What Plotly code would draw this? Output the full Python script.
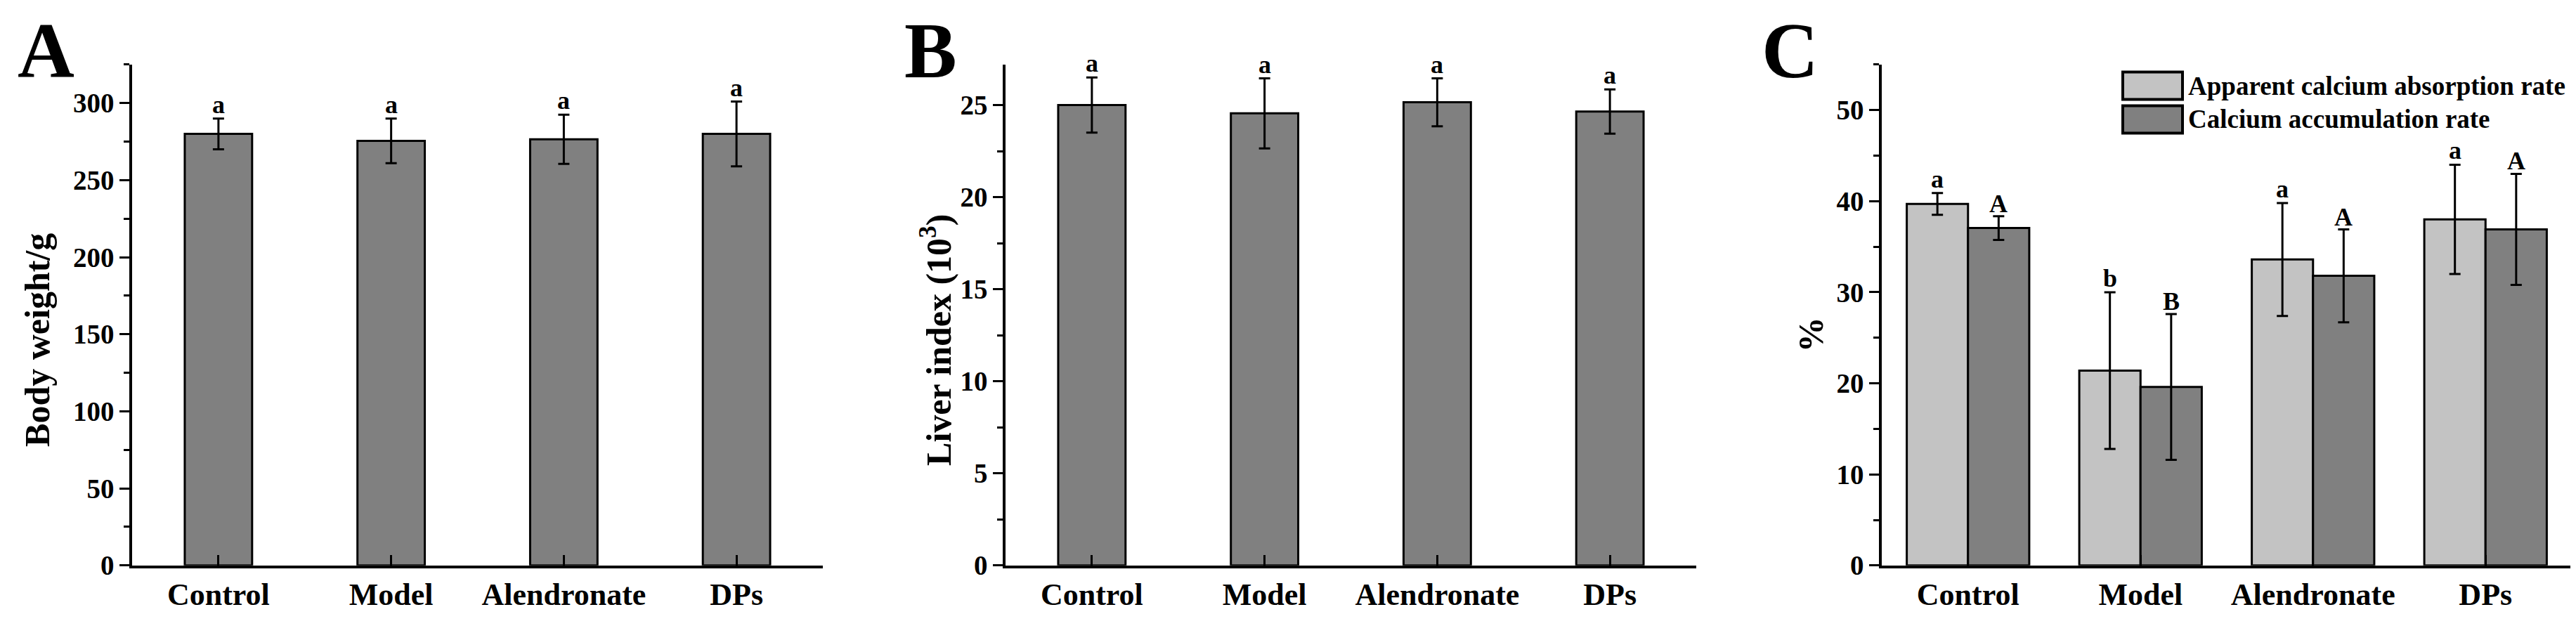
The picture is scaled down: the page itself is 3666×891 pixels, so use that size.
import plotly.graph_objects as go

W, H = 3666, 891

categories = ["Control", "Model", "Alendronate", "DPs"]

body_weight = [280.0, 275.5, 276.5, 280.0]
body_weight_sd = [10.0, 14.5, 16.0, 21.0]
body_weight_letters = ["a", "a", "a", "a"]

liver_index = [25.0, 24.55, 25.15, 24.65]
liver_index_sd = [1.5, 1.9, 1.3, 1.2]
liver_index_letters = ["a", "a", "a", "a"]

series_names = ["Apparent calcium absorption rate", "Calcium accumulation rate"]
ca_absorption = [39.7, 21.4, 33.6, 38.0]
ca_absorption_sd = [1.2, 8.6, 6.2, 6.0]
ca_absorption_letters = ["a", "b", "a", "a"]
ca_accumulation = [37.05, 19.6, 31.8, 36.9]
ca_accumulation_sd = [1.3, 8.0, 5.1, 6.1]
ca_accumulation_letters = ["A", "B", "A", "A"]

panel_letters = ["A", "B", "C"]
y_titles = ["Body weight/g", "Liver index (10<sup>3</sup>)", "%"]

FONT = "Liberation Serif"
LIGHT = "#c3c3c3"
DARK = "#808080"


def px_x(p):
    return p / W


def px_y(p):
    return 1 - p / H


xpos = list(range(len(categories)))

fig = go.Figure()

err_style = dict(type="data", visible=True, color="black", thickness=3, width=8)
line_style = dict(color="black", width=3)

fig.add_trace(go.Bar(x=xpos, y=body_weight, width=0.39, marker=dict(color=DARK, line=line_style),
                     error_y=dict(array=body_weight_sd, **err_style), xaxis="x", yaxis="y", showlegend=False))
fig.add_trace(go.Bar(x=xpos, y=liver_index, width=0.39, marker=dict(color=DARK, line=line_style),
                     error_y=dict(array=liver_index_sd, **err_style), xaxis="x2", yaxis="y2", showlegend=False))
BW = 0.355
fig.add_trace(go.Bar(x=xpos, y=ca_absorption, width=BW, offset=-BW, name=series_names[0],
                     marker=dict(color=LIGHT, line=line_style),
                     error_y=dict(array=ca_absorption_sd, **err_style), xaxis="x3", yaxis="y3", showlegend=False))
fig.add_trace(go.Bar(x=xpos, y=ca_accumulation, width=BW, offset=0, name=series_names[1],
                     marker=dict(color=DARK, line=line_style),
                     error_y=dict(array=ca_accumulation_sd, **err_style), xaxis="x3", yaxis="y3", showlegend=False))

x_domains = [[180 / W, 1163 / W], [1423 / W, 2406 / W], [2670 / W, 3652 / W]]
y_domain = [1 - 817 / H, 1 - 86 / H]
y_ranges = [[0, 325], [0, 27.2], [0, 55]]
y_dticks = [50, 5, 10]

tickfont = dict(family=FONT, size=39, color="black", weight="bold")
catfont = dict(family=FONT, size=44, color="black", weight="bold")

layout = dict(
    width=W, height=H, autosize=False,
    margin=dict(l=0, r=0, t=0, b=0),
    paper_bgcolor="white", plot_bgcolor="white",
    barmode="overlay", showlegend=False,
)
for i in range(3):
    sx = "" if i == 0 else str(i + 1)
    layout["xaxis" + sx] = dict(
        domain=x_domains[i], anchor="y" + sx, range=[-0.5, 3.5],
        tickmode="array", tickvals=xpos, ticktext=categories,
        showline=True, linecolor="black", linewidth=3.5, mirror=False,
        ticks="inside", ticklen=15, tickwidth=3, tickcolor="black",
        tickfont=catfont, showgrid=False, zeroline=False, fixedrange=True,
    )
    layout["yaxis" + sx] = dict(
        domain=y_domain, anchor="x" + sx, range=y_ranges[i],
        tickmode="linear", tick0=0, dtick=y_dticks[i],
        showline=True, linecolor="black", linewidth=3.5,
        ticks="outside", ticklen=14, tickwidth=3, tickcolor="black",
        minor=dict(dtick=y_dticks[i] / 2, ticks="outside", ticklen=8, tickwidth=3, tickcolor="black", showgrid=False),
        tickfont=tickfont, showgrid=False, zeroline=False, fixedrange=True,
    )
fig.update_layout(**layout)

ann = []
# significance letters
letter_font = dict(family=FONT, size=36, color="black", weight="bold")
for i in range(4):
    ann.append(dict(x=xpos[i], y=body_weight[i] + body_weight_sd[i], xref="x", yref="y",
                    text=body_weight_letters[i], showarrow=False, yanchor="bottom", font=letter_font, yshift=-2))
    ann.append(dict(x=xpos[i], y=liver_index[i] + liver_index_sd[i], xref="x2", yref="y2",
                    text=liver_index_letters[i], showarrow=False, yanchor="bottom", font=letter_font, yshift=-2))
    ann.append(dict(x=xpos[i] - BW / 2, y=ca_absorption[i] + ca_absorption_sd[i], xref="x3", yref="y3",
                    text=ca_absorption_letters[i], showarrow=False, yanchor="bottom", font=letter_font, yshift=-2))
    ann.append(dict(x=xpos[i] + BW / 2, y=ca_accumulation[i] + ca_accumulation_sd[i], xref="x3", yref="y3",
                    text=ca_accumulation_letters[i], showarrow=False, yanchor="bottom", font=letter_font, yshift=-4))

# panel letters
for lx, t in zip([15, 1277, 2497], panel_letters):
    ann.append(dict(x=px_x(lx), y=1.0, xref="paper", yref="paper", text=t, showarrow=False,
                    xanchor="left", yanchor="top", yshift=0,
                    font=dict(family=FONT, size=112, color="black", weight="bold")))

# y titles
for cx, cy, t in zip([45, 1325, 2569], [488, 488, 480], y_titles):
    ann.append(dict(x=px_x(cx), y=px_y(cy), xref="paper", yref="paper", text=t, showarrow=False,
                    textangle=-90, xanchor="center", yanchor="middle",
                    font=dict(family=FONT, size=50, color="black", weight="bold")))

# legend (drawn manually)
shapes = []
leg_rows = [(97, 137, LIGHT), (146, 186, DARK)]
for (y0, y1, col), name in zip(leg_rows, series_names):
    shapes.append(dict(type="rect", xref="paper", yref="paper",
                       x0=px_x(3013), x1=px_x(3098), y0=px_y(y1), y1=px_y(y0),
                       fillcolor=col, line=dict(color="black", width=4)))
    ann.append(dict(x=px_x(3104), y=px_y((y0 + y1) / 2), xref="paper", yref="paper", text=name,
                    showarrow=False, xanchor="left", yanchor="middle",
                    font=dict(family=FONT, size=37, color="black", weight="bold")))

fig.update_layout(annotations=ann, shapes=shapes)
fig.write_html("out.html")
